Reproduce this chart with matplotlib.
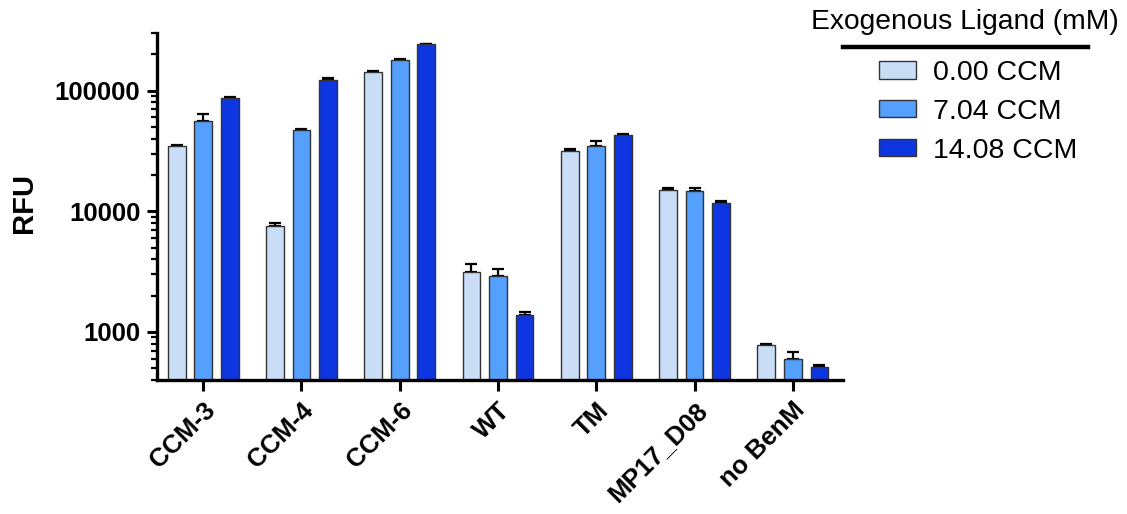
import numpy as np
import matplotlib.pyplot as plt
from matplotlib.patches import Patch
from matplotlib.lines import Line2D
from matplotlib.ticker import FixedLocator, LogLocator, NullFormatter

plt.rcParams['font.family'] = ['Liberation Sans', 'DejaVu Sans']

# data
strains = ['CCM-3', 'CCM-4', 'CCM-6', 'WT', 'TM', 'MP17_D08', 'no BenM']
series = ['0.00 CCM', '7.04 CCM', '14.08 CCM']
rfu_000 = [34500, 7500, 142000, 3150, 31500, 14900, 780]
rfu_704 = [56500, 47000, 180000, 2920, 35000, 14800, 598]
rfu_1408 = [87500, 123000, 241000, 1380, 42500, 11700, 510]
err_000 = [1000, 500, 3500, 500, 1300, 700, 20]
err_704 = [7000, 1000, 3500, 400, 3000, 700, 85]
err_1408 = [800, 3500, 4000, 90, 1300, 400, 20]

colors = ['#C9DDF7', '#55A0FC', '#0E36E0']

fig = plt.figure(figsize=(11.27, 5.14), dpi=100)
ax = fig.add_axes([157/1127, 1-380/514, (843-157)/1127, (380-33)/514])

x = np.arange(len(strains))
width = 0.18
offsets = [-0.27, 0, 0.27]
vals = [rfu_000, rfu_704, rfu_1408]
errs = [err_000, err_704, err_1408]
for i in range(3):
    ax.bar(x + offsets[i], vals[i], width, color=colors[i], edgecolor='#333333',
           linewidth=1.0, zorder=2)
    ax.errorbar(x + offsets[i], vals[i], yerr=[np.zeros(len(x)), errs[i]],
                fmt='none', ecolor='black', elinewidth=1.6, capsize=4,
                capthick=1.6, zorder=1)

ax.set_yscale('log')
ax.set_ylim(400, 300000)
ax.set_xlim(-0.47, 6.51)
ax.yaxis.set_major_locator(FixedLocator([1000, 10000, 100000]))
ax.set_yticklabels(['1000', '10000', '100000'])
ax.yaxis.set_minor_locator(LogLocator(base=10, subs=np.arange(2, 10)))
ax.yaxis.set_minor_formatter(NullFormatter())

ax.set_xticks(x)
ax.set_xticklabels(strains, rotation=45, ha='right', rotation_mode='anchor')

for s in ['top', 'right']:
    ax.spines[s].set_visible(False)
for s in ['left', 'bottom']:
    ax.spines[s].set_linewidth(2.4)

ax.tick_params(axis='both', which='major', width=2.2, length=7,
               labelsize=18.5)
ax.tick_params(axis='y', pad=5)
ax.tick_params(axis='x', length=8, pad=5)
ax.tick_params(axis='y', which='minor', width=1.6, length=4)
for lab in ax.get_xticklabels() + ax.get_yticklabels():
    lab.set_fontweight('bold')

ax.set_ylabel('RFU', fontsize=21, fontweight='bold')
ax.yaxis.set_label_coords(-0.174, 0.51)

# legend
handles = [Patch(facecolor=colors[i], edgecolor='#333333', linewidth=1.0)
           for i in range(3)]
fig.legend(handles, series, loc='upper left',
           bbox_to_anchor=(879/1127, 1-60/514), frameon=False,
           fontsize=20.5, handlelength=1.3, handleheight=0.56,
           handletextpad=0.6, labelspacing=0.45, borderpad=0,
           borderaxespad=0)
fig.text(965/1127, 1-22/514, 'Exogenous Ligand (mM)', fontsize=20.3,
         ha='center', va='center')
fig.add_artist(Line2D([843/1127, 1088/1127], [1-47/514, 1-47/514],
                      color='black', linewidth=3.2,
                      transform=fig.transFigure))

fig.savefig('out.png', dpi=100)
